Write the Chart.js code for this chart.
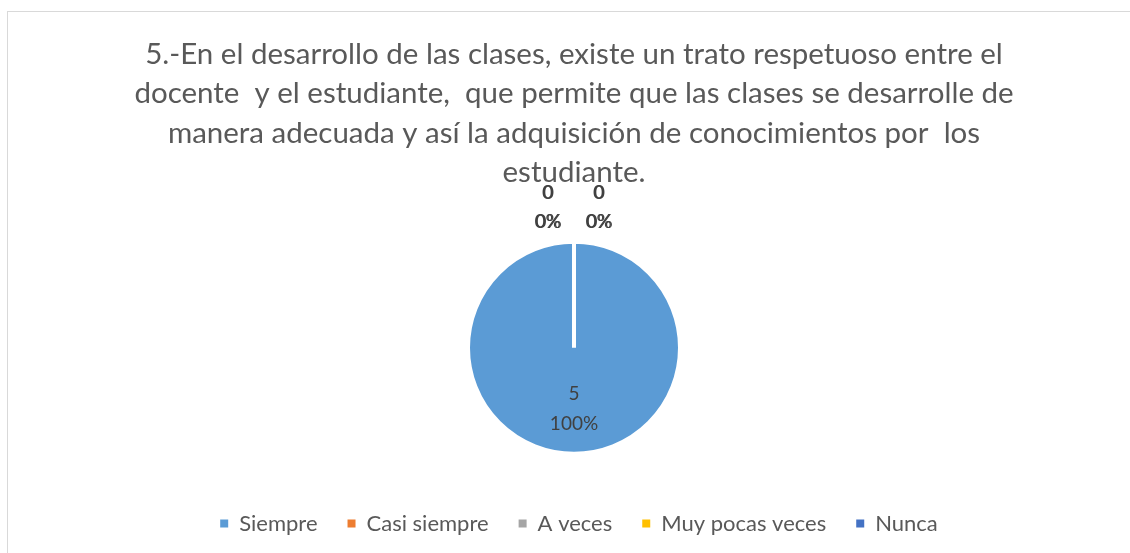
<!DOCTYPE html>
<html>
<head>
<meta charset="utf-8">
<script src="https://cdn.jsdelivr.net/npm/chart.js@4.4.1/dist/chart.umd.min.js"></script>
<style>
html,body{margin:0;padding:0;background:#fff;overflow:hidden;}
#frame{position:absolute;left:7px;top:11px;width:1200px;height:600px;border:1px solid #d9d9d9;box-sizing:border-box;}
#wrap{position:absolute;left:0;top:0;width:1130px;height:553px;}
</style>
</head>
<body>
<div id="frame"></div>
<div id="wrap"><canvas id="c" width="1130" height="553"></canvas></div>
<script>
const titleLines = [
  "5.-En el desarrollo de las clases, existe un trato respetuoso entre el",
  "docente  y el estudiante,  que permite que las clases se desarrolle de",
  "manera adecuada y así la adquisición de conocimientos por  los",
  "estudiante."
];
const categories = ["Siempre", "Casi siempre", "A veces", "Muy pocas veces", "Nunca"];
const values = [5, 0, 0, 0, 0];
const colors = ["#5B9BD5", "#ED7D31", "#A5A5A5", "#FFC000", "#4472C4"];

const labelPlugin = {
  id: 'sliceLabels',
  afterLayout(chart) {
    if (chart.legend) { chart.legend.left += 5; chart.legend.right += 5; }
  },
  afterDatasetsDraw(chart) {
    const meta = chart.getDatasetMeta(0);
    const data = chart.data.datasets[0].data;
    const total = data.reduce((a, b) => a + b, 0);
    const ctx = chart.ctx;
    ctx.save();
    ctx.fillStyle = '#404040';
    ctx.textAlign = 'center';
    ctx.textBaseline = 'middle';
    ctx.font = '19px Lato, "Open Sans", sans-serif';
    let zeroIdx = 0;
    meta.data.forEach((arc, i) => {
      const v = data[i];
      const pct = Math.round(v / total * 100) + '%';
      const p = arc.getProps(['x', 'y', 'startAngle', 'endAngle', 'outerRadius'], true);
      if (v > 0) {
        const mid = (p.startAngle + p.endAngle) / 2;
        const r = p.outerRadius * 0.58;
        const x = p.x + Math.cos(mid) * r;
        const y = p.y + Math.sin(mid) * r;
        ctx.fillText(String(v), x, y - 15);
        ctx.fillText(pct, x, y + 15);
      } else {
        const side = zeroIdx < 2 ? -1 : 1;
        const jitter = (zeroIdx % 2) * 1;
        const x = p.x + side * 25.5 + jitter - 1;
        const top = p.y - p.outerRadius;
        ctx.fillText(String(v), x, top - 49);
        ctx.fillText(pct, x, top - 20);
        zeroIdx++;
      }
    });
    ctx.restore();
  }
};

new Chart(document.getElementById('c'), {
  type: 'pie',
  data: {
    labels: categories,
    datasets: [{
      data: values,
      backgroundColor: colors,
      borderColor: '#ffffff',
      borderWidth: 4,
      radius: 106
    }]
  },
  options: {
    responsive: false,
    animation: false,
    events: [],
    layout: { padding: { left: 18, right: 0, top: 0, bottom: 8.5 } },
    plugins: {
      title: {
        display: true,
        text: titleLines,
        color: '#595959',
        font: { family: 'Lato, "Open Sans", sans-serif', size: 29.5, weight: 'normal', lineHeight: 1.33 },
        padding: { top: 35, bottom: 21 }
      },
      legend: {
        display: true,
        position: 'bottom',
        labels: {
          color: '#595959',
          font: { family: 'Lato, "Open Sans", sans-serif', size: 22 },
          boxWidth: 8,
          boxHeight: 8,
          padding: 30,
          generateLabels(chart) {
            const items = Chart.overrides.pie.plugins.legend.labels.generateLabels(chart);
            return items.map(it => Object.assign(it, { lineWidth: 0, strokeStyle: 'rgba(0,0,0,0)' }));
          }
        }
      },
      tooltip: { enabled: false }
    }
  },
  plugins: [labelPlugin]
});
</script>
</body>
</html>
